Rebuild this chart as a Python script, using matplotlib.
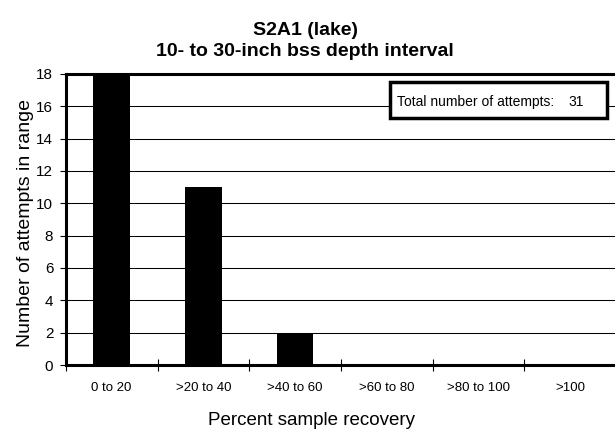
import matplotlib
matplotlib.use('Agg')
import matplotlib.pyplot as plt
from matplotlib.patches import Rectangle
import numpy as np

plt.rcParams['font.family'] = ['Liberation Sans', 'DejaVu Sans']

categories = ['0 to 20', '>20 to 40', '>40 to 60', '>60 to 80', '>80 to 100', '>100']
counts = [18, 11, 2, 0, 0, 0]
total_attempts = 31

fig = plt.figure(figsize=(6.15, 4.32), dpi=100)
ax = fig.add_axes([0.107, 0.155, 0.895, 0.674])

x = np.arange(len(categories)) + 0.5
ax.bar(x, counts, width=0.4, color='black', zorder=3)

ax.set_xlim(0, len(categories))
ax.set_ylim(0, 18)
ax.set_yticks(np.arange(0, 19, 2))
ax.yaxis.grid(True, color='black', linewidth=0.75, zorder=0)

# category boundaries as ticks, labels in the middle
ax.set_xticks(np.arange(0, len(categories) + 1))
ax.set_xticklabels([])
ax.set_xticks(x, minor=True)
ax.set_xticklabels(categories, minor=True, fontsize=9.5)
ax.tick_params(axis='x', which='minor', length=0, pad=12)
ax.tick_params(axis='x', which='major', direction='inout', length=9, width=0.8)
ax.tick_params(axis='y', direction='out', length=4, width=0.8, labelsize=11, pad=5)

for side in ['left', 'bottom', 'top']:
    ax.spines[side].set_linewidth(2.2)
ax.spines['right'].set_visible(False)

fig.text(0.041, 0.484, 'Number of attempts in range', rotation=90,
         ha='center', va='center', fontsize=14)
fig.text(0.507, 1 - 425 / 432, 'Percent sample recovery', ha='center', va='baseline',
         fontsize=13.5)

fig.text(0.496, 0.919, 'S2A1 (lake)', ha='center', va='baseline', fontsize=14, fontweight='bold')
fig.text(0.496, 0.870, '10- to 30-inch bss depth interval', ha='center', va='baseline',
         fontsize=14, fontweight='bold')

# note box with total count
ax.add_patch(Rectangle((0.589, 0.849), 0.395, 0.1235, transform=ax.transAxes,
                       facecolor='white', edgecolor='black', linewidth=2.5, zorder=5))
ax.text(0.602, 0.904, 'Total number of attempts:', transform=ax.transAxes,
        ha='left', va='center', fontsize=10, zorder=6)
ax.text(0.913, 0.904, str(total_attempts), transform=ax.transAxes,
        ha='left', va='center', fontsize=10, zorder=6)

fig.savefig('out.png', dpi=100)
